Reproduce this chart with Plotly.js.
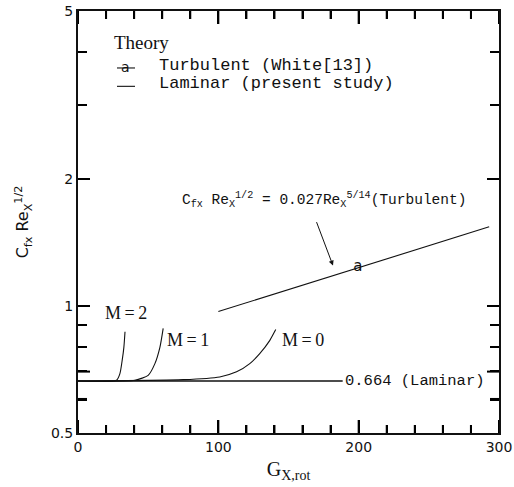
<!DOCTYPE html>
<html>
<head>
<meta charset="utf-8">
<script src="https://cdn.plot.ly/plotly-3.0.1.min.js"></script>
<style>html,body{margin:0;padding:0;background:#fff;}</style>
</head>
<body>
<div id="chart" style="width:514px;height:487px;"></div>
<script>
// Laminar asymptote
const laminarX = [0, 188.6];
const laminarY = [0.664, 0.664];
// Turbulent (White [13])
const turbX = [100, 150, 200, 250, 293];
const turbY = [0.97, 1.094, 1.233, 1.39, 1.54];
// marker "a" on turbulent line
const turbMarkX = [199.5];
const turbMarkY = [1.233];
// M = 2
const m2X = [0, 27.5, 29.9, 31.5, 32.7, 33.5];
const m2Y = [0.664, 0.667, 0.692, 0.744, 0.799, 0.869];
// M = 1
const m1X = [0, 40.6, 50, 54.8, 58.4, 60.7];
const m1Y = [0.664, 0.667, 0.685, 0.730, 0.799, 0.885];
// M = 0
const m0X = [0, 75, 101, 113, 122.4, 129.5, 136.7, 140.9];
const m0Y = [0.664, 0.669, 0.679, 0.698, 0.730, 0.771, 0.829, 0.879];
// axes ticks
const xTickVals = [0, 100, 200, 300];
const xTickText = ["0", "100", "200", "300"];
const xMinorVals = [20, 40, 60, 80, 120, 140, 160, 180, 220, 240, 260, 280];
const yTickVals = [0.5, 1, 2, 5];
const yTickText = ["0.5", "1", "2", "5"];
const yMinorVals = [0.6, 0.7, 0.8, 0.9, 3, 4];

const W = 514, H = 487;
const M = {l: 78, r: 15, t: 11, b: 54};
const xRange = [0, 300];
const yRange = [Math.log10(0.5), Math.log10(5)];
const plotW = W - M.l - M.r, plotH = H - M.t - M.b;

// inward tick marks on all four sides, built from the tick arrays
const shapes = [];
const tickLine = {color: '#000', width: 2};
function addXTicks(vals, len) {
  vals.forEach(v => {
    shapes.push({type: 'line', xref: 'x', yref: 'paper', x0: v, x1: v, y0: 0, y1: len / plotH, line: tickLine});
    shapes.push({type: 'line', xref: 'x', yref: 'paper', x0: v, x1: v, y0: 1, y1: 1 - len / plotH, line: tickLine});
  });
}
function addYTicks(vals, len) {
  vals.forEach(v => {
    const ly = Math.log10(v);
    shapes.push({type: 'line', yref: 'y', xref: 'paper', y0: ly, y1: ly, x0: 0, x1: len / plotW, line: tickLine});
    shapes.push({type: 'line', yref: 'y', xref: 'paper', y0: ly, y1: ly, x0: 1, x1: 1 - len / plotW, line: tickLine});
  });
}
addXTicks(xTickVals, 13);
addXTicks(xMinorVals, 8);
addYTicks(yTickVals, 12);
addYTicks(yMinorVals, 9);
// legend keys
shapes.push({type: 'line', xref: 'paper', yref: 'paper', x0: 0.0926, x1: 0.1354, y0: 0.865, y1: 0.865, line: {color: '#111', width: 1.1}});
shapes.push({type: 'line', xref: 'paper', yref: 'paper', x0: 0.0926, x1: 0.1354, y0: 0.8215, y1: 0.8215, line: {color: '#111', width: 1.1}});

const lineStyle = {color: '#111', width: 1.1, shape: 'spline', smoothing: 0.6};
const traces = [
  {x: laminarX, y: laminarY, mode: 'lines', line: {color: '#111', width: 1.3}, showlegend: false},
  {x: turbX, y: turbY, mode: 'lines', line: {color: '#111', width: 1.1}, showlegend: false},
  {x: turbMarkX, y: turbMarkY, mode: 'text', text: ['a'], textposition: 'middle center',
   textfont: {family: 'DejaVu Sans', size: 15, color: '#111'}, showlegend: false},
  {x: m2X, y: m2Y, mode: 'lines', line: lineStyle, showlegend: false},
  {x: m1X, y: m1Y, mode: 'lines', line: lineStyle, showlegend: false},
  {x: m0X, y: m0Y, mode: 'lines', line: lineStyle, showlegend: false}
];

const mono = 'Liberation Mono, Courier New, monospace';
const serif = 'Liberation Serif, DejaVu Serif, serif';
const sans = 'DejaVu Sans, Arial, sans-serif';

const layout = {
  width: W, height: H,
  margin: M,
  paper_bgcolor: '#fff', plot_bgcolor: '#fff',
  showlegend: false,
  xaxis: {
    range: xRange, showgrid: false, zeroline: false,
    showline: true, linecolor: '#111', linewidth: 2, mirror: 'ticks',
    ticks: 'inside', ticklen: 13, tickwidth: 2, tickcolor: '#000',
    tickmode: 'array', tickvals: xTickVals, ticktext: xTickText,
    minor: {tickmode: 'array', tickvals: xMinorVals, ticks: 'inside', ticklen: 8, tickwidth: 2, tickcolor: '#000'},
    tickfont: {family: sans, size: 14, color: '#111'},
    title: {text: 'G<sub>X,rot</sub>', font: {family: serif, size: 20, color: '#111'}, standoff: 8}
  },
  yaxis: {
    type: 'log', range: yRange, showgrid: false, zeroline: false,
    showline: true, linecolor: '#111', linewidth: 2, mirror: 'ticks',
    ticks: 'inside', ticklen: 12, tickwidth: 2, tickcolor: '#000',
    tickmode: 'array', tickvals: yTickVals, ticktext: yTickText,
    minor: {tickmode: 'array', tickvals: yMinorVals, ticks: 'inside', ticklen: 9, tickwidth: 2, tickcolor: '#000'},
    tickfont: {family: sans, size: 14, color: '#111'},
    title: {text: 'C<sub>fx</sub> Re<sub>X</sub><sup>1/2</sup>', font: {family: sans, size: 16, color: '#111'}, standoff: 18}
  },
  shapes: shapes,
  annotations: [
    {xref: 'paper', yref: 'paper', x: 0.0808, y: 0.9265, xanchor: 'left', yanchor: 'middle', showarrow: false,
     text: 'Theory', font: {family: serif, size: 19, color: '#111'}},
    {xref: 'paper', yref: 'paper', x: 0.114, y: 0.8673, xanchor: 'center', yanchor: 'middle', showarrow: false,
     text: 'a', font: {family: sans, size: 14, color: '#111'}},
    {xref: 'paper', yref: 'paper', x: 0.1876, y: 0.872, xanchor: 'left', yanchor: 'middle', showarrow: false,
     text: 'Turbulent (White[13])', font: {family: mono, size: 17, color: '#111'}},
    {xref: 'paper', yref: 'paper', x: 0.1876, y: 0.828, xanchor: 'left', yanchor: 'middle', showarrow: false,
     text: 'Laminar (present study)', font: {family: mono, size: 17, color: '#111'}},
    {x: 188.6, y: Math.log10(0.664), xanchor: 'left', yanchor: 'middle', showarrow: false,
     text: '0.664 (Laminar)', font: {family: mono, size: 15.5, color: '#111'}},
    {x: 34.5, y: -0.0177, xanchor: 'center', yanchor: 'middle', showarrow: false,
     text: 'M\u2009=\u20092', font: {family: serif, size: 18, color: '#111'}},
    {x: 78.6, y: -0.0814, xanchor: 'center', yanchor: 'middle', showarrow: false,
     text: 'M\u2009=\u20091', font: {family: serif, size: 18, color: '#111'}},
    {x: 160.1, y: -0.0814, xanchor: 'center', yanchor: 'middle', showarrow: false,
     text: 'M\u2009=\u20090', font: {family: serif, size: 18, color: '#111'}},
    {x: 73, y: 0.2514, xanchor: 'left', yanchor: 'middle', showarrow: false,
     text: 'C<sub>fx</sub> Re<sub>X</sub><sup>1/2</sup> = 0.027Re<sub>X</sub><sup>5/14</sup>(Turbulent)',
     font: {family: mono, size: 14.5, color: '#111'}},
    {x: 181.7, y: 0.0956, ax: -17, ay: -45, showarrow: true, arrowhead: 2, arrowsize: 1, arrowwidth: 1, arrowcolor: '#111', text: ''}
  ]
};

Plotly.newPlot('chart', traces, layout, {staticPlot: true, displayModeBar: false});
</script>
</body>
</html>
